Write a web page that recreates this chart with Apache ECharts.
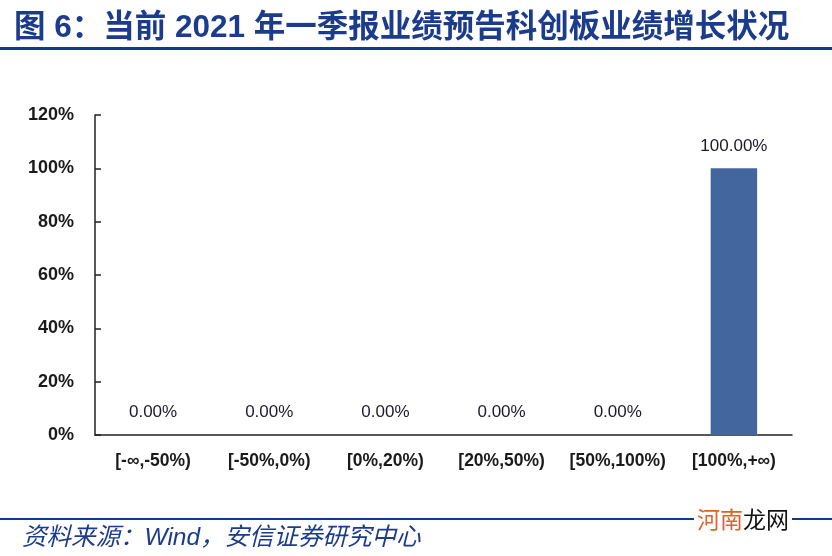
<!DOCTYPE html>
<html>
<head>
<meta charset="utf-8">
<script src="https://cdn.jsdelivr.net/npm/echarts@6/dist/echarts.min.js"></script>
<style>
  html, body { margin: 0; padding: 0; background: #fff; }
  #chart { width: 832px; height: 556px; }
</style>
</head>
<body>
<div id="chart"></div>
<script>
  var categories = ['[-∞,-50%)', '[-50%,0%)', '[0%,20%)', '[20%,50%)', '[50%,100%)', '[100%,+∞)'];
  var shares = [0, 0, 0, 0, 0, 100];
  var yTicks = [0, 20, 40, 60, 80, 100, 120];

  var FONT = '"Liberation Sans", Arial, "Noto Sans CJK SC", sans-serif';
  var chart = echarts.init(document.getElementById('chart'));

  var option = {
    animation: false,
    textStyle: { fontFamily: FONT },
    grid: { left: 95, right: 40, top: 115, bottom: 121 },
    xAxis: {
      type: 'category',
      data: categories,
      axisLine: { lineStyle: { color: '#222', width: 1.5 } },
      axisTick: { inside: true, length: 6, lineStyle: { color: '#222', width: 1.5 } },
      axisLabel: { color: '#1a1a1a', fontWeight: 'bold', fontSize: 17.5, margin: 17, interval: 0 }
    },
    yAxis: {
      type: 'value',
      min: yTicks[0],
      max: yTicks[yTicks.length - 1],
      interval: 20,
      splitLine: { show: false },
      axisLine: { show: true, lineStyle: { color: '#222', width: 1.5 } },
      axisTick: { show: true, inside: true, length: 6, lineStyle: { color: '#222', width: 1.5 } },
      axisLabel: { color: '#1a1a1a', fontWeight: 'bold', fontSize: 18, margin: 21, formatter: '{value}%' }
    },
    series: [{
      type: 'bar',
      data: shares,
      barWidth: '40%',
      itemStyle: { color: '#43669f' },
      label: {
        show: true,
        position: 'top',
        distance: 14,
        color: '#1a1a2a',
        fontSize: 17,
        formatter: function (p) { return p.value.toFixed(2) + '%'; }
      }
    }],
    graphic: [
      {
        type: 'text', left: 14, top: 13,
        style: {
          text: '图 6：当前 2021 年一季报业绩预告科创板业绩增长状况',
          font: 'bold 31.5px "Liberation Sans", "Noto Sans CJK SC", sans-serif',
          fill: '#1b3c8c'
        }
      },
      { type: 'rect', shape: { x: 0, y: 47, width: 832, height: 3 }, style: { fill: '#0a3a94' } },
      { type: 'rect', shape: { x: 0, y: 518, width: 832, height: 2 }, style: { fill: '#0a3a94' } },
      {
        type: 'text', left: 22, top: 526,
        style: {
          text: '资料来源：Wind，安信证券研究中心',
          font: 'italic 24.5px "Liberation Sans", "Noto Sans CJK SC", sans-serif',
          fill: '#1b3c8c'
        }
      },
      { type: 'rect', shape: { x: 694, y: 508, width: 98, height: 28 }, style: { fill: '#fff' } },
      {
        type: 'text', left: 697, top: 508,
        style: {
          rich: {
            a: { fill: '#e0622a', fontSize: 23, fontFamily: 'Noto Sans CJK SC' },
            b: { fill: '#111', fontSize: 23, fontFamily: 'Noto Sans CJK SC' }
          },
          text: '{a|河南}{b|龙网}'
        }
      }
    ]
  };

  chart.setOption(option);
</script>
</body>
</html>
